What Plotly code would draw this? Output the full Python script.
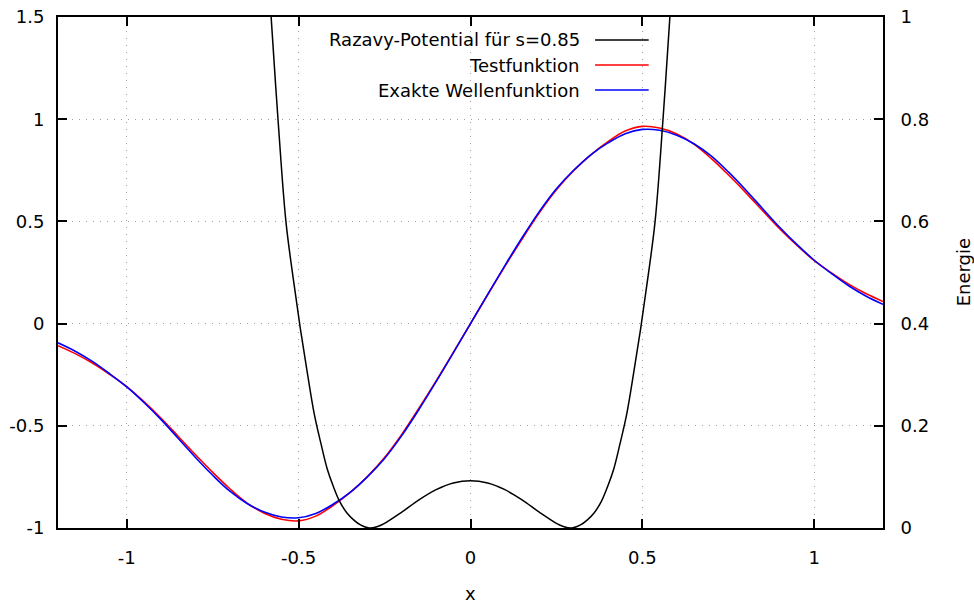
import plotly.graph_objects as go

# ---- data ----
x_wave = [-1.20, -1.15, -1.10, -1.05, -1.00, -0.95, -0.90, -0.85, -0.80, -0.75, -0.70, -0.65,
          -0.60, -0.55, -0.50, -0.45, -0.40, -0.35, -0.30, -0.25, -0.20, -0.15, -0.10, -0.05,
          0.00, 0.05, 0.10, 0.15, 0.20, 0.25, 0.30, 0.35, 0.40, 0.45, 0.50, 0.55, 0.60,
          0.65, 0.70, 0.75, 0.80, 0.85, 0.90, 0.95, 1.00, 1.05, 1.10, 1.15, 1.20]

test_func = [-0.108, -0.147, -0.193, -0.248, -0.308, -0.382, -0.463, -0.552, -0.642, -0.728, -0.808, -0.878,
             -0.928, -0.957, -0.965, -0.942, -0.890, -0.826, -0.748, -0.655, -0.542, -0.414, -0.280, -0.141,
             0.0, 0.141, 0.280, 0.414, 0.542, 0.655, 0.748, 0.826, 0.890, 0.942, 0.965, 0.957, 0.928,
             0.878, 0.808, 0.728, 0.642, 0.552, 0.463, 0.382, 0.308, 0.248, 0.193, 0.147, 0.108]

exact_func = [-0.094, -0.135, -0.185, -0.245, -0.310, -0.386, -0.470, -0.562, -0.655, -0.742, -0.820, -0.880,
              -0.922, -0.946, -0.950, -0.929, -0.884, -0.826, -0.750, -0.660, -0.548, -0.420, -0.284, -0.143,
              0.0, 0.143, 0.284, 0.420, 0.548, 0.660, 0.750, 0.826, 0.884, 0.929, 0.950, 0.946, 0.922,
              0.880, 0.820, 0.742, 0.655, 0.562, 0.470, 0.386, 0.310, 0.245, 0.185, 0.135, 0.094]

x_pot = [-0.600, -0.580, -0.560, -0.537, -0.515, -0.495, -0.475, -0.455, -0.435, -0.417, -0.400, -0.380,
         -0.360, -0.340, -0.320, -0.295, -0.270, -0.250, -0.200, -0.150, -0.100, -0.050, 0.0,
         0.050, 0.100, 0.150, 0.200, 0.250, 0.270, 0.295, 0.320, 0.340, 0.360, 0.380, 0.400,
         0.417, 0.435, 0.455, 0.475, 0.495, 0.515, 0.537, 0.560, 0.580, 0.600]
potential = [1.21, 1.00, 0.80, 0.60, 0.485, 0.39, 0.305, 0.225, 0.165, 0.116, 0.083, 0.051,
             0.030, 0.016, 0.006, 0.0, 0.003, 0.009, 0.031, 0.055, 0.075, 0.088, 0.0925,
             0.088, 0.075, 0.055, 0.031, 0.009, 0.003, 0.0, 0.006, 0.016, 0.030, 0.051, 0.083,
             0.116, 0.165, 0.225, 0.305, 0.39, 0.485, 0.60, 0.80, 1.00, 1.21]

legend_names = ["Razavy-Potential für s=0.85", "Testfunktion", "Exakte Wellenfunktion"]
legend_colors = ["#000000", "#ff0000", "#0000ff"]

x_ticks = [-1, -0.5, 0, 0.5, 1]
y_ticks = [-1, -0.5, 0, 0.5, 1, 1.5]
y2_ticks = [0, 0.2, 0.4, 0.6, 0.8, 1]

FONT = "DejaVu Sans"

fig = go.Figure()
fig.add_trace(go.Scatter(x=x_pot, y=potential, yaxis="y2", mode="lines", name=legend_names[0],
                         line=dict(color=legend_colors[0], width=1.5, shape="spline", smoothing=1.0)))
fig.add_trace(go.Scatter(x=x_wave, y=test_func, mode="lines", name=legend_names[1],
                         line=dict(color=legend_colors[1], width=1.6, shape="spline", smoothing=1.0)))
fig.add_trace(go.Scatter(x=x_wave, y=exact_func, mode="lines", name=legend_names[2],
                         line=dict(color=legend_colors[2], width=1.6, shape="spline", smoothing=1.0)))

axis_common = dict(showline=True, linecolor="black", linewidth=2, ticks="inside", ticklen=9,
                   tickwidth=1.5, tickcolor="black", zeroline=False, automargin=False,
                   tickfont=dict(family=FONT, size=18, color="black"),
                   gridcolor="#a0a0a0", griddash="1px,6px", gridwidth=1)

fig.update_layout(
    width=974, height=604,
    margin=dict(l=58, r=91, t=17, b=76, pad=0),
    paper_bgcolor="white", plot_bgcolor="white",
    showlegend=False,
    font=dict(family=FONT, size=18, color="black"),
    xaxis=dict(range=[-1.2, 1.2], tickvals=x_ticks, ticktext=[str(v) for v in x_ticks],
               mirror="ticks", showgrid=True, ticklabelstandoff=12, **axis_common),
    yaxis=dict(range=[-1, 1.5], tickvals=y_ticks, ticktext=[str(v) for v in y_ticks],
               mirror=True, showgrid=True, ticklabelstandoff=8, **axis_common),
    yaxis2=dict(range=[0, 1], tickvals=y2_ticks, ticktext=[str(v) for v in y2_ticks],
                overlaying="y", side="right", showgrid=False, ticklabelstandoff=12, **axis_common),
)

# axis labels
fig.add_annotation(text="x", xref="paper", yref="paper", x=0.5, y=-0.128,
                   xanchor="center", yanchor="middle", showarrow=False,
                   font=dict(family=FONT, size=18))
fig.add_annotation(text="Energie", xref="paper", yref="paper", x=1.098, y=0.5, textangle=-90,
                   xanchor="center", yanchor="middle", showarrow=False,
                   font=dict(family=FONT, size=18))

# gnuplot-style legend: text right-aligned, sample line to the right
row_y = [0.955, 0.906, 0.857]
for name, col, yy in zip(legend_names, legend_colors, row_y):
    fig.add_annotation(text=name, xref="paper", yref="paper", x=0.635, y=yy,
                       xanchor="right", yanchor="middle", showarrow=False,
                       font=dict(family=FONT, size=18))
    fig.add_shape(type="line", xref="paper", yref="paper", x0=0.651, x1=0.716, y0=yy, y1=yy,
                  line=dict(color=col, width=1.5))

fig.write_html("out.html")
